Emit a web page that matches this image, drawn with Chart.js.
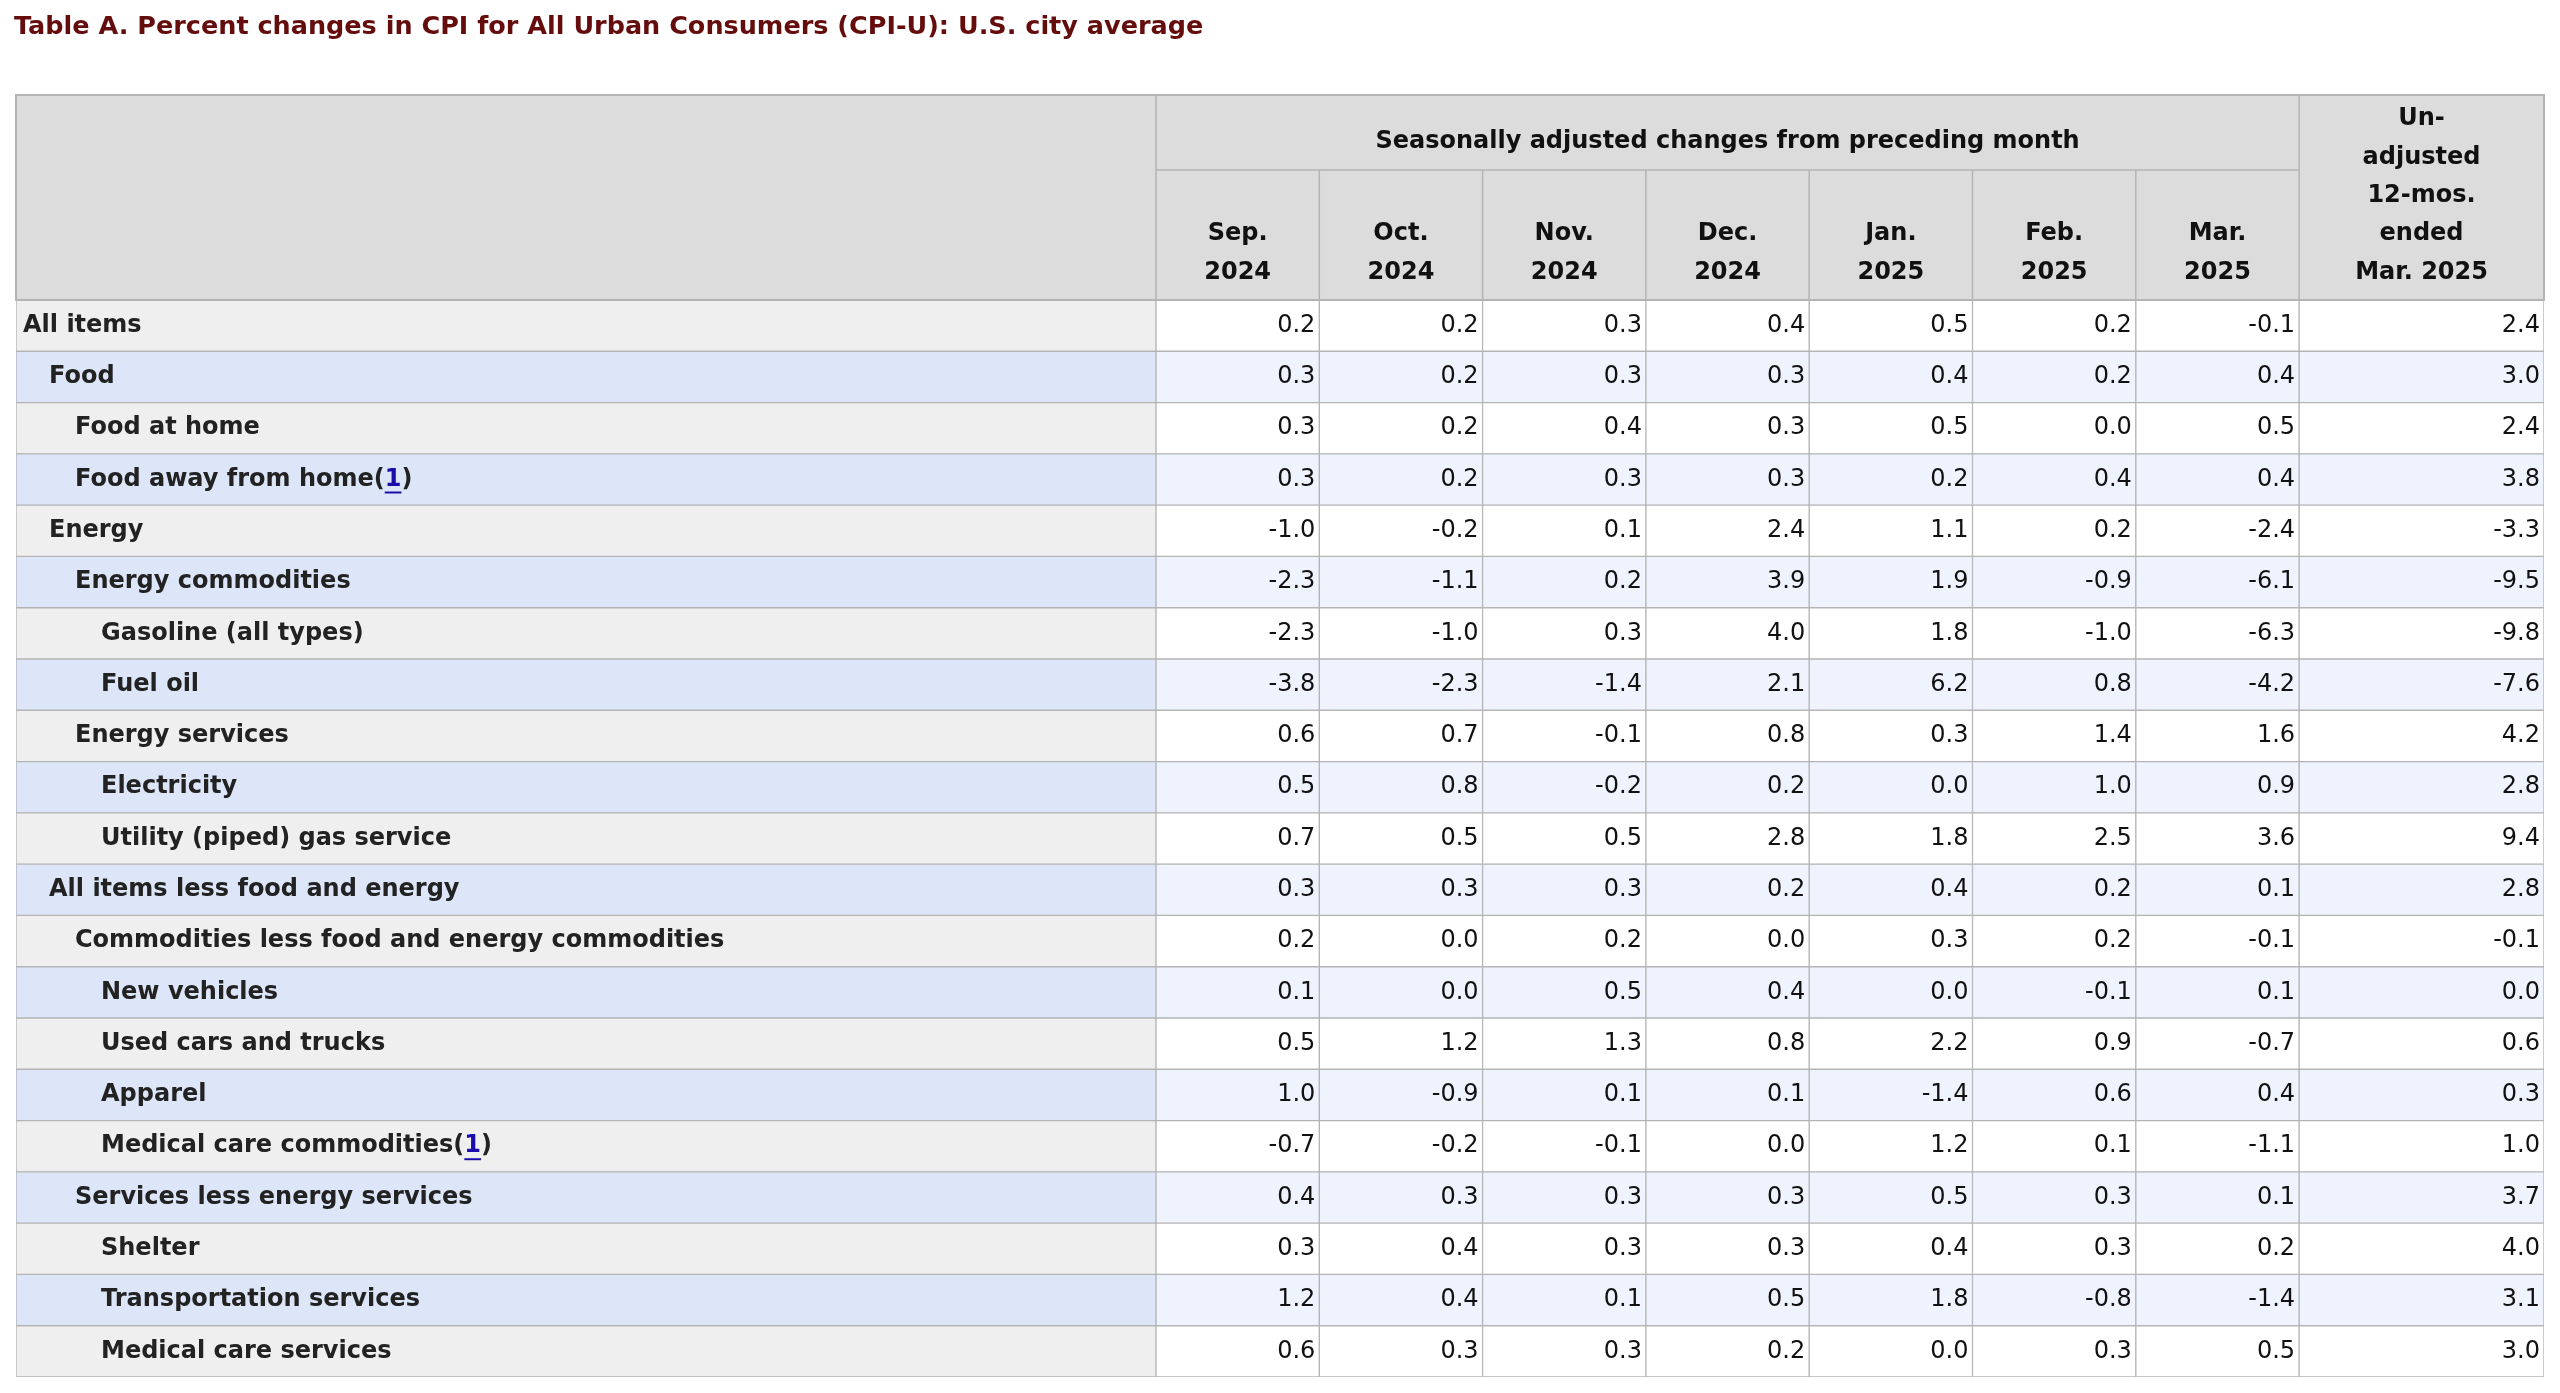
<!DOCTYPE html>
<html><head><meta charset="utf-8">
<script src="https://cdn.jsdelivr.net/npm/chart.js@4/dist/chart.umd.min.js"></script>
<style>html,body{margin:0;padding:0;background:#fff}#wrap{width:2560px;height:1393px;position:relative}</style>
</head><body><div id="wrap"><canvas id="c"></canvas></div>
<script>
const title = "Table A. Percent changes in CPI for All Urban Consumers (CPI-U): U.S. city average";
const groupHeader = "Seasonally adjusted changes from preceding month";
const monthHeaders = [["Sep.","2024"],["Oct.","2024"],["Nov.","2024"],["Dec.","2024"],["Jan.","2025"],["Feb.","2025"],["Mar.","2025"]];
const lastHeader = ["Un-","adjusted","12-mos.","ended","Mar. 2025"];
const categories = ["All items","Food","Food at home","Food away from home","Energy","Energy commodities","Gasoline (all types)","Fuel oil","Energy services","Electricity","Utility (piped) gas service","All items less food and energy","Commodities less food and energy commodities","New vehicles","Used cars and trucks","Apparel","Medical care commodities","Services less energy services","Shelter","Transportation services","Medical care services"];
const indentLevels = [0,1,2,2,1,2,3,3,2,3,3,1,2,3,3,3,3,2,3,3,3];
const footnoteRows = [3,16];
const sep24 = [0.2,0.3,0.3,0.3,-1.0,-2.3,-2.3,-3.8,0.6,0.5,0.7,0.3,0.2,0.1,0.5,1.0,-0.7,0.4,0.3,1.2,0.6];
const oct24 = [0.2,0.2,0.2,0.2,-0.2,-1.1,-1.0,-2.3,0.7,0.8,0.5,0.3,0.0,0.0,1.2,-0.9,-0.2,0.3,0.4,0.4,0.3];
const nov24 = [0.3,0.3,0.4,0.3,0.1,0.2,0.3,-1.4,-0.1,-0.2,0.5,0.3,0.2,0.5,1.3,0.1,-0.1,0.3,0.3,0.1,0.3];
const dec24 = [0.4,0.3,0.3,0.3,2.4,3.9,4.0,2.1,0.8,0.2,2.8,0.2,0.0,0.4,0.8,0.1,0.0,0.3,0.3,0.5,0.2];
const jan25 = [0.5,0.4,0.5,0.2,1.1,1.9,1.8,6.2,0.3,0.0,1.8,0.4,0.3,0.0,2.2,-1.4,1.2,0.5,0.4,1.8,0.0];
const feb25 = [0.2,0.2,0.0,0.4,0.2,-0.9,-1.0,0.8,1.4,1.0,2.5,0.2,0.2,-0.1,0.9,0.6,0.1,0.3,0.3,-0.8,0.3];
const mar25 = [-0.1,0.4,0.5,0.4,-2.4,-6.1,-6.3,-4.2,1.6,0.9,3.6,0.1,-0.1,0.1,-0.7,0.4,-1.1,0.1,0.2,-1.4,0.5];
const yoy = [2.4,3.0,2.4,3.8,-3.3,-9.5,-9.8,-7.6,4.2,2.8,9.4,2.8,-0.1,0.0,0.6,0.3,1.0,3.7,4.0,3.1,3.0];
const valueColumns = [sep24,oct24,nov24,dec24,jan25,feb25,mar25,yoy];

// layout (x units = pixels within chart area)
const LABEL_W = 1140, MONTH_W = 163.3, TOTAL_W = 2528;
const edges = [0, LABEL_W];
for (let i=1;i<=7;i++) edges.push(LABEL_W + MONTH_W*i);
edges.push(TOTAL_W);

const GRAY='#efefef', BLUE='#dce6f8', WHITE='#ffffff', LBLUE='#eef3fd', BORDER='#b4b4b4', HEAD='#dcdcdc';
const datasets = [];
for (let c=0;c<edges.length-1;c++){
  datasets.push({
    data: categories.map(()=>[edges[c],edges[c+1]]),
    backgroundColor: categories.map((_,r)=> c===0 ? (r%2?BLUE:GRAY) : (r%2?LBLUE:WHITE)),
    borderColor: BORDER, borderWidth: 1, borderSkipped: false,
    barPercentage: 1, categoryPercentage: 1, grouped: false
  });
}
const FONT = '"DejaVu Sans", Verdana, sans-serif';
const tablePlugin = {
  id:'table',
  afterDatasetsDraw(chart){
    const ctx = chart.ctx, xs = chart.scales.x, ys = chart.scales.y, ca = chart.chartArea;
    const X = v => xs.getPixelForValue(v);
    ctx.save();
    ctx.fillStyle = '#650d0d'; ctx.font = 'bold 25.5px '+FONT; ctx.textBaseline='middle'; ctx.textAlign='left';
    ctx.fillText(title, 14, 27);
    const hTop = 95, hMid = 170, hBot = ca.top;
    ctx.fillStyle = HEAD; ctx.fillRect(X(0), hTop, X(TOTAL_W)-X(0), hBot-hTop);
    ctx.strokeStyle = BORDER; ctx.lineWidth = 2;
    ctx.strokeRect(X(0), hTop, X(TOTAL_W)-X(0), hBot-hTop);
    ctx.lineWidth = 1.5;
    ctx.beginPath();
    ctx.moveTo(X(edges[1]),hTop); ctx.lineTo(X(edges[1]),hBot);
    ctx.moveTo(X(edges[8]),hTop); ctx.lineTo(X(edges[8]),hBot);
    ctx.moveTo(X(edges[1]),hMid); ctx.lineTo(X(edges[8]),hMid);
    for (let i=2;i<8;i++){ ctx.moveTo(X(edges[i]),hMid); ctx.lineTo(X(edges[i]),hBot); }
    ctx.stroke();
    ctx.fillStyle = '#111'; ctx.font = 'bold 24px '+FONT; ctx.textAlign='center';
    ctx.fillText(groupHeader, (X(edges[1])+X(edges[8]))/2, 142);
    monthHeaders.forEach((h,i)=>{
      const cx = (X(edges[i+1])+X(edges[i+2]))/2;
      ctx.fillText(h[0], cx, 234); ctx.fillText(h[1], cx, 273);
    });
    const lx = (X(edges[8])+X(edges[9]))/2;
    [119,158,196,234,273].forEach((y,i)=>ctx.fillText(lastHeader[i], lx, y));
    categories.forEach((name,r)=>{
      const y = ys.getPixelForValue(r);
      ctx.textAlign='left'; ctx.font='bold 24px '+FONT; ctx.fillStyle='#222';
      let x = X(0) + 7 + indentLevels[r]*26;
      ctx.fillText(name, x, y);
      if (footnoteRows.includes(r)){
        x += ctx.measureText(name).width;
        ctx.fillText('(', x, y); x += ctx.measureText('(').width;
        ctx.fillStyle='#1a0dab'; ctx.fillText('1', x, y);
        const w = ctx.measureText('1').width;
        ctx.fillRect(x, y+12, w, 2); x += w;
        ctx.fillStyle='#222'; ctx.fillText(')', x, y);
      }
      ctx.font='24px '+FONT; ctx.textAlign='right'; ctx.fillStyle='#111';
      valueColumns.forEach((col,c)=>{
        ctx.fillText(col[r].toFixed(1), X(edges[c+2])-4, y);
      });
    });
    ctx.restore();
  }
};
new Chart(document.getElementById('c'),{
  type:'bar',
  data:{labels:categories, datasets},
  options:{
    indexAxis:'y', responsive:true, maintainAspectRatio:false, animation:false,
    layout:{padding:{left:16,right:16,top:300,bottom:16}},
    scales:{
      x:{type:'linear',min:0,max:TOTAL_W,display:false},
      y:{type:'category',display:false,stacked:true}
    },
    plugins:{legend:{display:false},tooltip:{enabled:false},title:{display:false}}
  },
  plugins:[tablePlugin]
});
</script></body></html>
